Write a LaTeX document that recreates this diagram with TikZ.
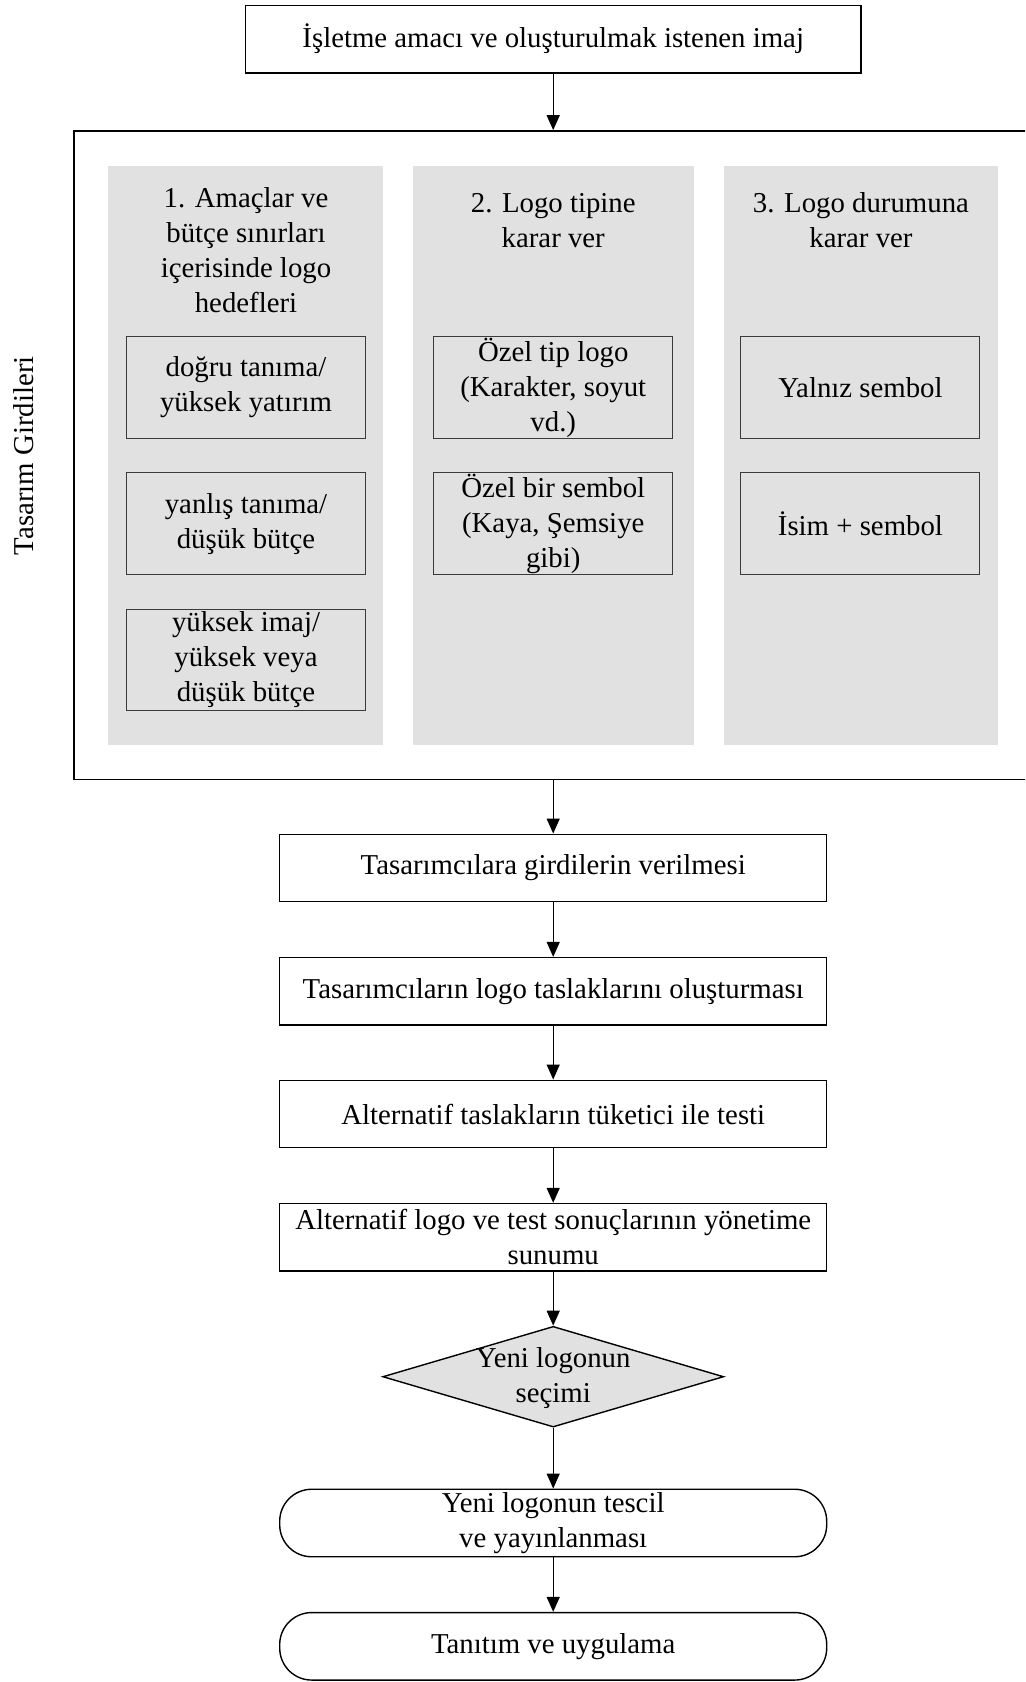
\documentclass[tikz,border=0pt]{standalone}
\usepackage{fontspec}
\setmainfont{Liberation Serif}
\usetikzlibrary{shapes.geometric,arrows.meta}
\definecolor{panelgray}{HTML}{E1E1E1}
\definecolor{boxline}{HTML}{3A3A3A}
\begin{document}
\begin{tikzpicture}[x=0.5pt,y=-0.5pt,
  every node/.style={font=\fontsize{14.4pt}{17.5pt}\selectfont, align=center, inner sep=0pt},
  flowbox/.style={draw=black, line width=0.7pt, minimum width=273.5pt, minimum height=33.75pt},
  endbox/.style={flowbox, rounded corners=16pt},
  panel/.style={fill=panelgray, minimum width=137.25pt, minimum height=289.5pt},
  choice/.style={draw=boxline, line width=0.5pt, fill=panelgray, minimum width=119.5pt, minimum height=50.9pt},
  flow/.style={draw=black, line width=0.7pt, -{Triangle[width=6.5pt,length=7.5pt]}}]
\clip (0,0) rectangle (1025,1682);

% top goal box
\node[flowbox, minimum width=307.75pt] (goal) at (553.2,39.1) {İşletme amacı ve oluşturulmak istenen imaj};

% frame holding the design inputs (open on the right)
\node[draw=black, line width=0.7pt, minimum width=485.5pt, minimum height=324.35pt] (frame) at (559.5,455.2) {};
\node[rotate=90] (label) at (23.6,455.7) {Tasarım Girdileri};

% three panels
\node[panel] (p1) at (245.55,455.7) {};
\node[panel, minimum width=140.45pt] (p2) at (553.25,455.7) {};
\node[panel] (p3) at (860.95,455.7) {};

\node (t1) at (246,250.2) {1. Amaçlar ve\\bütçe sınırları\\içerisinde logo\\hedefleri};
\node (t2) at (553.25,220.3) {2. Logo tipine\\karar ver};
\node (t3) at (860.95,220.3) {3. Logo durumuna\\karar ver};

\node[choice] (a1) at (246,387.6) {doğru tanıma/\\yüksek yatırım};
\node[choice] (a2) at (246,523.75) {yanlış tanıma/\\düşük bütçe};
\node[choice] (a3) at (246,660) {yüksek imaj/\\yüksek veya\\düşük bütçe};

\node[choice] (b1) at (553.25,387.6) {Özel tip logo\\(Karakter, soyut\\vd.)};
\node[choice] (b2) at (553.25,523.75) {Özel bir sembol\\(Kaya, Şemsiye\\gibi)};

\node[choice] (c1) at (860.45,387.6) {Yalnız sembol};
\node[choice] (c2) at (860.45,523.75) {İsim + sembol};

% process steps
\node[flowbox] (s1) at (553.2,868) {Tasarımcılara girdilerin verilmesi};
\node[flowbox] (s2) at (553.2,991.3) {Tasarımcıların logo taslaklarını oluşturması};
\node[flowbox] (s3) at (553.2,1114) {Alternatif taslakların tüketici ile testi};
\node[flowbox] (s4) at (553.2,1237.3) {Alternatif logo ve test sonuçlarının yönetime\\sunumu};
\node[diamond, draw=black, line width=0.7pt, fill=panelgray, minimum width=170.5pt, minimum height=50.35pt, aspect=3.4] (d) at (553.2,1376.7) {};
\node (dt) at (553.2,1378) {Yeni logonun\\seçimi};
\node[endbox] (e1) at (553.2,1523) {Yeni logonun tescil\\ve yayınlanması};
\node[endbox] (e2) at (553.2,1646.3) {Tanıtım ve uygulama};

% connectors
\draw[flow] (goal.south) -- (goal.south |- frame.north);
\draw[flow] (s1.north |- frame.south) -- (s1.north);
\draw[flow] (s1) -- (s2);
\draw[flow] (s2) -- (s3);
\draw[flow] (s3) -- (s4);
\draw[flow] (s4) -- (d.north);
\draw[flow] (d.south) -- (e1);
\draw[flow] (e1) -- (e2);
\end{tikzpicture}
\end{document}
